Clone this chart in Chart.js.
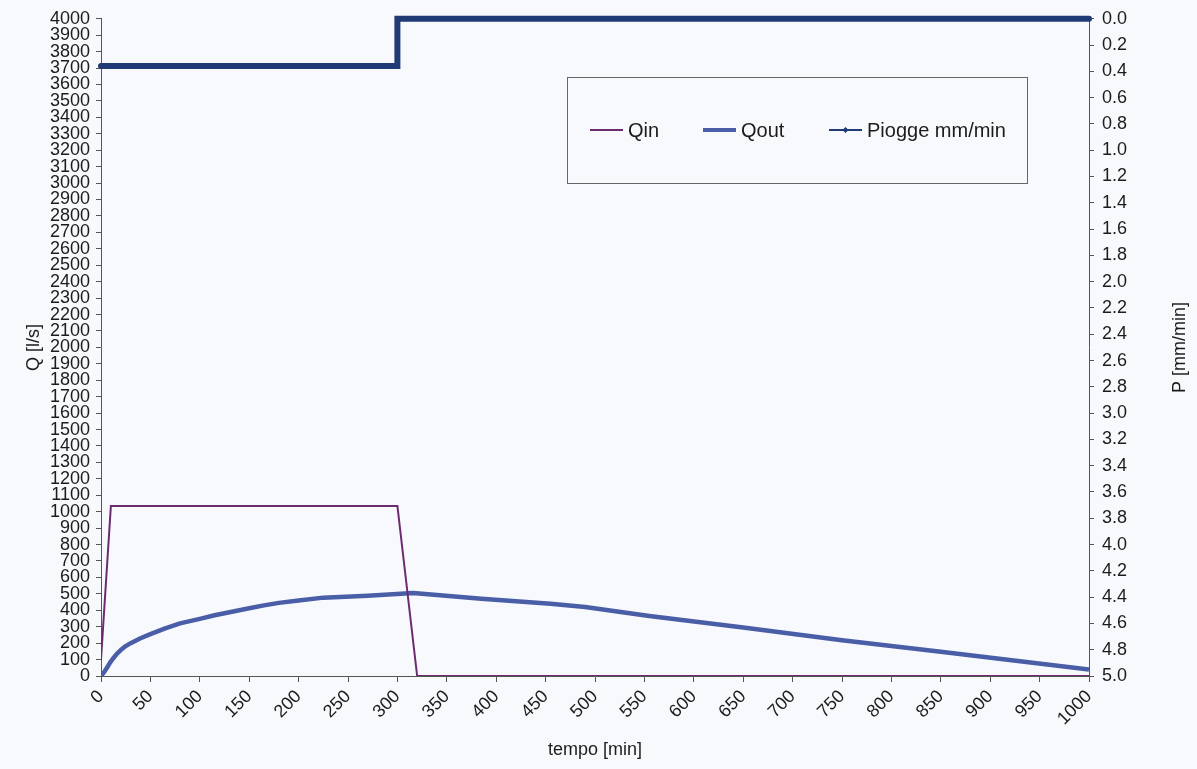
<!DOCTYPE html>
<html>
<head>
<meta charset="utf-8">
<script src="https://cdn.jsdelivr.net/npm/chart.js@4/dist/chart.umd.min.js"></script>
<style>
  html, body { margin: 0; padding: 0; background: #f8f9fc; }
  #wrap { width: 1197px; height: 769px; }
</style>
</head>
<body>
<div id="wrap"><canvas id="myChart"></canvas></div>
<script>
// portate in ingresso [l/s]
const qinTime = [0, 10, 300, 320, 1000];
const qinValues = [100, 1035, 1035, 0, 0];

// portate in uscita [l/s]
const qoutTime = [0, 3, 6, 9, 12, 16, 20, 25, 30, 40, 50, 65, 80, 100, 115, 130, 150, 165, 180, 200, 225, 270, 316, 385, 455, 490, 555, 650, 750, 850, 1000];
const qoutValues = [0, 22, 50, 80, 105, 135, 158, 182, 200, 230, 255, 290, 320, 348, 370, 388, 412, 430, 445, 460, 477, 488, 505, 470, 440, 420, 365, 295, 218, 147, 40];

// piogge [mm/min]
const rainTime = [0, 300, 300, 1000];
const rainValues = [0.36, 0.36, 0, 0];

const qinColor = "#6a2c6e";
const qoutColor = "#4a5ea8";
const rainColor = "#1f3a75";
const textColor = "#1c1c1c";
const axisColor = "#555";
const fontFamily = "'Liberation Sans', Arial, sans-serif";

const toPoints = (xs, ys) => xs.map((x, i) => ({ x: x, y: ys[i] }));

// legend box inside the plot + right axis title (reads bottom to top)
const boxLegend = {
  id: "boxLegend",
  afterDraw(chart) {
    const c = chart.ctx;
    c.save();
    c.strokeStyle = "#666";
    c.lineWidth = 1;
    c.strokeRect(567.5, 77.5, 460, 106);
    c.font = "20px " + fontFamily;
    c.fillStyle = textColor;
    c.textBaseline = "middle";
    const y = 130;
    const items = [
      { x: 590, w: 2, color: qinColor, text: "Qin", marker: false },
      { x: 703, w: 4, color: qoutColor, text: "Qout", marker: false },
      { x: 829, w: 2, color: rainColor, text: "Piogge mm/min", marker: true }
    ];
    items.forEach(it => {
      c.strokeStyle = it.color;
      c.lineWidth = it.w;
      c.beginPath();
      c.moveTo(it.x, y);
      c.lineTo(it.x + 33, y);
      c.stroke();
      if (it.marker) {
        c.fillStyle = it.color;
        c.beginPath();
        c.moveTo(it.x + 16.5, y - 3);
        c.lineTo(it.x + 19.5, y);
        c.lineTo(it.x + 16.5, y + 3);
        c.lineTo(it.x + 13.5, y);
        c.closePath();
        c.fill();
        c.fillStyle = textColor;
      }
      c.fillText(it.text, it.x + 38, y + 1);
    });

    const area = chart.chartArea;
    c.translate(1180, (area.top + area.bottom) / 2);
    c.rotate(-Math.PI / 2);
    c.textAlign = "center";
    c.font = "18px " + fontFamily;
    c.fillText("P [mm/min]", 0, 0);
    c.restore();
  }
};

Chart.defaults.font.family = fontFamily;
Chart.defaults.color = textColor;

const ctx = document.getElementById("myChart").getContext("2d");
const myChart = new Chart(ctx, {
  type: "line",
  data: {
    datasets: [
      {
        label: "Qin",
        data: toPoints(qinTime, qinValues),
        borderColor: qinColor,
        borderWidth: 2,
        pointRadius: 0,
        tension: 0,
        yAxisID: "y"
      },
      {
        label: "Qout",
        data: toPoints(qoutTime, qoutValues),
        borderColor: qoutColor,
        borderWidth: 4.5,
        borderJoinStyle: "round",
        pointRadius: 0,
        tension: 0,
        yAxisID: "y"
      },
      {
        label: "Piogge mm/min",
        data: toPoints(rainTime, rainValues),
        borderColor: rainColor,
        borderWidth: 6,
        borderCapStyle: "round",
        pointRadius: 0,
        tension: 0,
        clip: 6,
        yAxisID: "y2"
      }
    ]
  },
  options: {
    responsive: true,
    maintainAspectRatio: false,
    animation: false,
    layout: { padding: { top: 17 } },
    scales: {
      x: {
        type: "linear",
        min: 0,
        max: 1000,
        title: {
          display: true,
          text: "tempo [min]",
          color: textColor,
          font: { size: 18 },
          padding: { top: 0, bottom: 8 }
        },
        ticks: {
          stepSize: 50,
          color: textColor,
          font: { size: 18 },
          maxRotation: 45,
          minRotation: 45,
          autoSkip: false,
          padding: 4,
          callback: (v) => String(v)
        },
        grid: { drawOnChartArea: false, tickLength: 6, color: axisColor },
        border: { color: axisColor },
        afterFit: (scale) => { scale.height = 93; }
      },
      y: {
        position: "left",
        min: 0,
        max: 4000,
        title: {
          display: true,
          text: "Q [l/s]",
          color: textColor,
          font: { size: 18 },
          padding: { top: 23, bottom: 0 }
        },
        ticks: {
          stepSize: 100,
          color: textColor,
          font: { size: 18 },
          autoSkip: false,
          padding: 6,
          callback: (v) => String(v)
        },
        grid: { drawOnChartArea: false, tickLength: 5, color: axisColor },
        border: { color: axisColor },
        afterFit: (scale) => { scale.width = 101; }
      },
      y2: {
        position: "right",
        reverse: true,
        min: 0,
        max: 5,
        ticks: {
          stepSize: 0.2,
          color: textColor,
          font: { size: 18 },
          autoSkip: false,
          padding: 8,
          callback: (v) => Number(v).toFixed(1)
        },
        grid: { drawOnChartArea: false, tickLength: 5, color: axisColor },
        border: { color: axisColor },
        afterFit: (scale) => { scale.width = 108; }
      }
    },
    plugins: {
      legend: { display: false },
      tooltip: { enabled: false }
    }
  },
  plugins: [boxLegend]
});
</script>
</body>
</html>
